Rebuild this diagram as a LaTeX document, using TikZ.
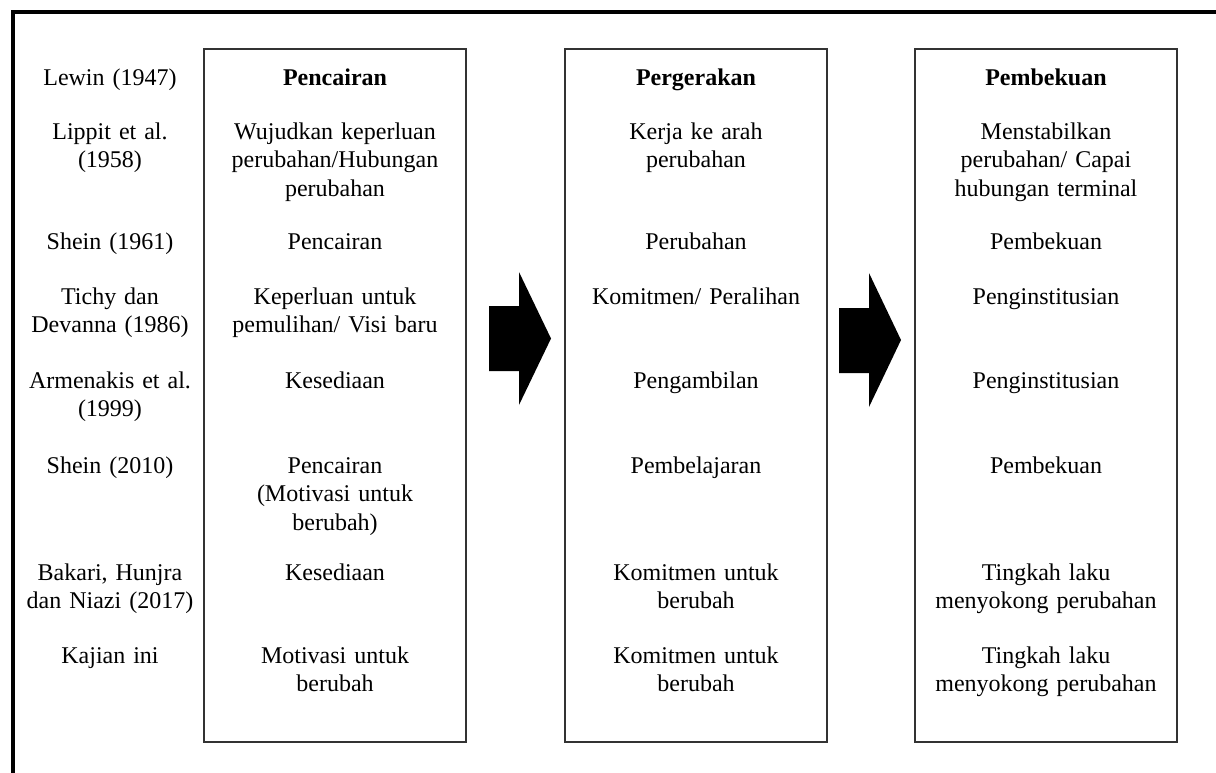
\documentclass[tikz,border=0pt]{standalone}
\usepackage{fontspec}
\setmainfont{Liberation Serif}
\begin{document}
\begin{tikzpicture}[x=1pt,y=-1pt,
  lbl/.style={anchor=base,align=center,inner sep=0pt,text width=250pt,
    font=\fontsize{24}{28.5}\selectfont},
  hdr/.style={lbl,font=\fontsize{24}{28.5}\selectfont\bfseries},
  stagebox/.style={draw=black!80,line width=1.2pt,minimum width=262pt,minimum height=693pt,inner sep=0pt},
  blockarrow/.style={fill=black}]
\useasboundingbox (0,0) rectangle (1216,772);
% outer frame (extends past the right and bottom edges)
\draw[line width=4pt] (13,800) -- (13,12) -- (1240,12);
% stage boxes
\node[stagebox] (b1) at (335,395.5) {};
\node[stagebox] (b2) at (696,395.5) {};
\node[stagebox] (b3) at (1046,395.5) {};
% block arrows
\fill[blockarrow] (489,306) -- (519,306) -- (519,272) -- (551,338.5) -- (519,405) -- (519,371) -- (489,371) -- cycle;
\fill[blockarrow] (839,308) -- (869,308) -- (869,273) -- (901,340) -- (869,407) -- (869,373) -- (839,373) -- cycle;
% left labels
\node[lbl] (l0) at (110,85) {Lewin (1947)};
\node[lbl] (l1) at (110,139) {Lippit et al.\\(1958)};
\node[lbl] (l2) at (110,249) {Shein (1961)};
\node[lbl] (l3) at (110,304) {Tichy dan\\Devanna (1986)};
\node[lbl] (l4) at (110,388) {Armenakis et al.\\(1999)};
\node[lbl] (l5) at (110,473) {Shein (2010)};
\node[lbl] (l6) at (110,580) {Bakari, Hunjra\\dan Niazi (2017)};
\node[lbl] (l7) at (110,663) {Kajian ini};
% column 1
\node[hdr] (a0) at (335,85) {Pencairan};
\node[lbl] (a1) at (335,139) {Wujudkan keperluan\\perubahan/Hubungan\\perubahan};
\node[lbl] (a2) at (335,249) {Pencairan};
\node[lbl] (a3) at (335,304) {Keperluan untuk\\pemulihan/ Visi baru};
\node[lbl] (a4) at (335,388) {Kesediaan};
\node[lbl] (a5) at (335,473) {Pencairan\\(Motivasi untuk\\berubah)};
\node[lbl] (a6) at (335,580) {Kesediaan};
\node[lbl] (a7) at (335,663) {Motivasi untuk\\berubah};
% column 2
\node[hdr] (p0) at (696,85) {Pergerakan};
\node[lbl] (p1) at (696,139) {Kerja ke arah\\perubahan};
\node[lbl] (p2) at (696,249) {Perubahan};
\node[lbl] (p3) at (696,304) {Komitmen/ Peralihan};
\node[lbl] (p4) at (696,388) {Pengambilan};
\node[lbl] (p5) at (696,473) {Pembelajaran};
\node[lbl] (p6) at (696,580) {Komitmen untuk\\berubah};
\node[lbl] (p7) at (696,663) {Komitmen untuk\\berubah};
% column 3
\node[hdr] (f0) at (1046,85) {Pembekuan};
\node[lbl] (f1) at (1046,139) {Menstabilkan\\perubahan/ Capai\\hubungan terminal};
\node[lbl] (f2) at (1046,249) {Pembekuan};
\node[lbl] (f3) at (1046,304) {Penginstitusian};
\node[lbl] (f4) at (1046,388) {Penginstitusian};
\node[lbl] (f5) at (1046,473) {Pembekuan};
\node[lbl] (f6) at (1046,580) {Tingkah laku\\menyokong perubahan};
\node[lbl] (f7) at (1046,663) {Tingkah laku\\menyokong perubahan};
\end{tikzpicture}
\end{document}
